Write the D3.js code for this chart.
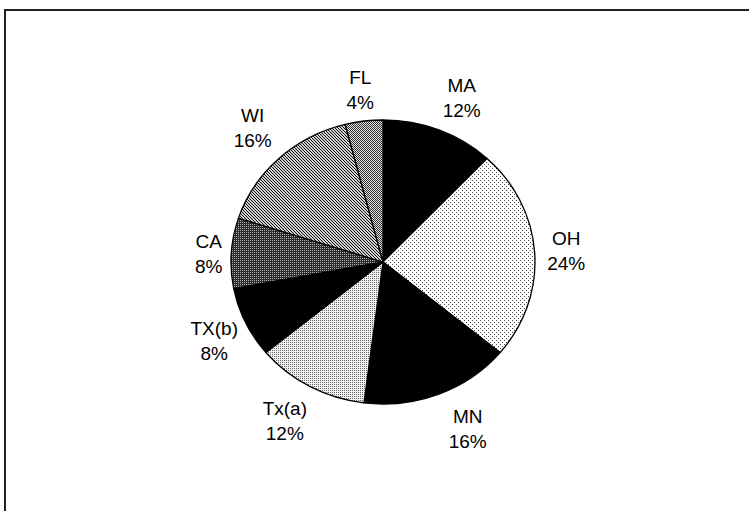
<!DOCTYPE html>
<html>
<head>
<meta charset="utf-8">
<script src="https://cdn.jsdelivr.net/npm/d3@7/dist/d3.min.js"></script>
<style>
  html, body { margin: 0; padding: 0; background: #fff; }
  svg { display: block; }
  text { font-family: "Liberation Sans", Arial, sans-serif; font-size: 19px; fill: #000; }
</style>
</head>
<body>
<svg id="chart" width="749" height="511"></svg>
<script>
// ---- data ----
const categories = ["MA", "OH", "MN", "Tx(a)", "TX(b)", "CA", "WI", "FL"];
const values = [12, 24, 16, 12, 8, 8, 16, 4];
const percentLabels = ["12%", "24%", "16%", "12%", "8%", "8%", "16%", "4%"];

// ---- layout / style (not data) ----
const W = 749, H = 511;
const cx = 383, cy = 262, rx = 152, ry = 142;
const fills = {
  "MA": "#000",
  "OH": "url(#pDots)",
  "MN": "#000",
  "Tx(a)": "url(#pLight)",
  "TX(b)": "#000",
  "CA": "url(#pDark)",
  "WI": "url(#pHatch)",
  "FL": "url(#pChecker)"
};
// label centre offsets relative to the mid-angle point on the ellipse (factor 1.3)
const labelAdjust = {
  "MA": [6, 4.5],
  "OH": [-14, -2.5],
  "MN": [12, -7.5],
  "Tx(a)": [-3, -6],
  "TX(b)": [10, -2.5],
  "CA": [23, 0.5],
  "WI": [5, -2.5],
  "FL": [2, 8]
};

const svg = d3.select("#chart");
const defs = svg.append("defs");

function pattern(id, size, bg, pixels, color) {
  const p = defs.append("pattern")
    .attr("id", id)
    .attr("patternUnits", "userSpaceOnUse")
    .attr("width", size).attr("height", size);
  p.append("rect").attr("width", size).attr("height", size).attr("fill", bg);
  pixels.forEach(([x, y]) => {
    p.append("rect").attr("x", x).attr("y", y).attr("width", 1).attr("height", 1).attr("fill", color);
  });
}
pattern("pDots", 4, "#fff", [[0, 0], [2, 2]], "#444");
pattern("pLight", 2, "#f2f2f2", [[0, 0]], "#666");
pattern("pDark", 2, "#2c2c2c", [[0, 0]], "#b0b0b0");
pattern("pHatch", 3, "#d0d0d0", [[0, 0], [1, 1], [2, 2]], "#111");
pattern("pChecker", 2, "#e0e0e0", [[0, 0], [1, 1]], "#333");

// frame
svg.append("rect").attr("x", 4).attr("y", 9).attr("width", W - 4).attr("height", 2).attr("fill", "#222");
svg.append("rect").attr("x", 4).attr("y", 9).attr("width", 2).attr("height", H - 9).attr("fill", "#222");

const pie = d3.pie().value(d => d.v).sort(null);
const data = categories.map((c, i) => ({ c, v: values[i], p: percentLabels[i] }));
const arcs = pie(data);

// elliptical slice path built from the pie layout angles
function ellipseSlice(d) {
  const x0 = cx + rx * Math.sin(d.startAngle), y0 = cy - ry * Math.cos(d.startAngle);
  const x1 = cx + rx * Math.sin(d.endAngle), y1 = cy - ry * Math.cos(d.endAngle);
  const large = (d.endAngle - d.startAngle) > Math.PI ? 1 : 0;
  return `M${cx},${cy}L${x0},${y0}A${rx},${ry} 0 ${large} 1 ${x1},${y1}Z`;
}

svg.append("g").selectAll("path.slice")
  .data(arcs)
  .join("path")
  .attr("class", "slice")
  .attr("d", ellipseSlice)
  .attr("fill", d => fills[d.data.c])
  .attr("stroke", "#000")
  .attr("stroke-width", 1.3)
  .attr("stroke-linejoin", "round");

// labels
const lab = svg.append("g");
arcs.forEach(d => {
  const a = (d.startAngle + d.endAngle) / 2;
  const adj = labelAdjust[d.data.c];
  const x = cx + Math.sin(a) * rx * 1.3 + adj[0];
  const y = cy - Math.cos(a) * ry * 1.3 + adj[1];
  const t = lab.append("text").attr("text-anchor", "middle");
  t.append("tspan").attr("x", x).attr("y", y - 3).text(d.data.c);
  t.append("tspan").attr("x", x).attr("y", y + 22).text(d.data.p);
});
</script>
</body>
</html>
